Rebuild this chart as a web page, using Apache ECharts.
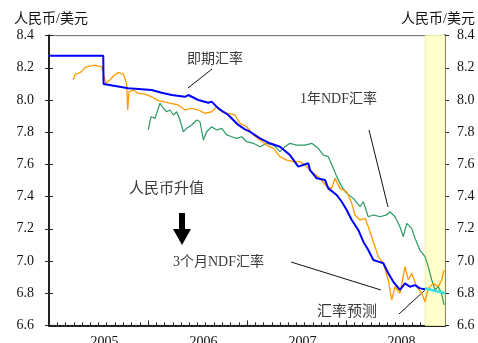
<!DOCTYPE html>
<html>
<head>
<meta charset="utf-8">
<script src="https://cdn.jsdelivr.net/npm/echarts@6/dist/echarts.min.js"></script>
<style>
  html, body { margin: 0; padding: 0; background: #fff; }
  #main { width: 478px; height: 343px; }
</style>
</head>
<body>
<div id="main"></div>
<script>
// 时间用小数年表示
var yearLabels = ['2005', '2006', '2007', '2008'];

// 即期汇率
var spotT = [2005.000, 2005.548, 2005.551, 2005.566, 2005.801, 2006.037, 2006.138, 2006.239, 2006.374, 2006.407,
  2006.508, 2006.609, 2006.643, 2006.710, 2006.811, 2006.912, 2006.980, 2007.030, 2007.131, 2007.232,
  2007.333, 2007.434, 2007.518, 2007.619, 2007.636, 2007.704, 2007.788, 2007.821, 2007.906, 2007.957,
  2008.007, 2008.058, 2008.124, 2008.175, 2008.225, 2008.276, 2008.326, 2008.377, 2008.427, 2008.478,
  2008.545, 2008.596, 2008.646, 2008.697, 2008.747, 2008.798];
var spotV = [8.275, 8.275, 8.100, 8.100, 8.073, 8.062, 8.045, 8.031, 8.020, 8.031,
  8.000, 7.983, 7.990, 7.948, 7.907, 7.845, 7.818, 7.803, 7.762, 7.731,
  7.710, 7.658, 7.586, 7.607, 7.565, 7.514, 7.503, 7.451, 7.410, 7.368,
  7.317, 7.255, 7.193, 7.120, 7.068, 7.006, 6.996, 6.986, 6.924, 6.871,
  6.820, 6.861, 6.840, 6.850, 6.830, 6.824];

// 3个月NDF汇率
var ndf3mT = [2005.245, 2005.263, 2005.296, 2005.330, 2005.364, 2005.414, 2005.465, 2005.498, 2005.532, 2005.548,
  2005.573, 2005.616, 2005.649, 2005.700, 2005.751, 2005.785, 2005.795, 2005.808, 2005.852, 2005.902,
  2005.970, 2006.037, 2006.104, 2006.155, 2006.222, 2006.306, 2006.374, 2006.441, 2006.508, 2006.576,
  2006.643, 2006.694, 2006.744, 2006.811, 2006.879, 2006.929, 2006.997, 2007.064, 2007.131, 2007.199,
  2007.266, 2007.333, 2007.401, 2007.468, 2007.535, 2007.586, 2007.654, 2007.737, 2007.805, 2007.856,
  2007.889, 2007.939, 2008.007, 2008.058, 2008.091, 2008.141, 2008.192, 2008.225, 2008.276, 2008.326,
  2008.377, 2008.427, 2008.462, 2008.495, 2008.545, 2008.596, 2008.629, 2008.664, 2008.714, 2008.765,
  2008.798, 2008.831, 2008.882, 2008.932, 2008.966, 2008.990];
var ndf3mV = [8.124, 8.161, 8.166, 8.176, 8.203, 8.211, 8.217, 8.210, 8.207, 8.166,
  8.104, 8.124, 8.149, 8.170, 8.161, 8.100, 7.938, 8.050, 8.062, 8.041,
  8.037, 8.020, 7.996, 7.990, 7.980, 7.969, 7.938, 7.948, 7.938, 7.917,
  7.927, 7.958, 7.927, 7.917, 7.907, 7.855, 7.834, 7.783, 7.752, 7.720,
  7.700, 7.648, 7.627, 7.617, 7.617, 7.596, 7.555, 7.514, 7.462, 7.451,
  7.514, 7.451, 7.430, 7.358, 7.286, 7.255, 7.265, 7.213, 7.120, 7.027,
  6.986, 6.882, 6.758, 6.840, 6.799, 6.965, 6.882, 6.924, 6.840, 6.799,
  6.747, 6.830, 6.861, 6.840, 6.882, 6.944];

// 1年NDF汇率
var ndf1yT = [2006.003, 2006.030, 2006.071, 2006.121, 2006.155, 2006.189, 2006.222, 2006.256, 2006.290, 2006.323,
  2006.357, 2006.391, 2006.441, 2006.492, 2006.525, 2006.559, 2006.593, 2006.643, 2006.694, 2006.744,
  2006.795, 2006.846, 2006.896, 2006.946, 2006.997, 2007.064, 2007.131, 2007.199, 2007.266, 2007.333,
  2007.384, 2007.434, 2007.502, 2007.586, 2007.654, 2007.720, 2007.771, 2007.821, 2007.872, 2007.906,
  2007.957, 2008.007, 2008.074, 2008.141, 2008.175, 2008.225, 2008.276, 2008.343, 2008.411, 2008.444,
  2008.495, 2008.545, 2008.579, 2008.613, 2008.664, 2008.697, 2008.747, 2008.798, 2008.831, 2008.866,
  2008.899, 2008.932, 2008.966, 2008.990];
var ndf1yV = [7.814, 7.896, 7.886, 7.980, 7.948, 7.927, 7.938, 7.907, 7.927, 7.876,
  7.803, 7.824, 7.845, 7.876, 7.865, 7.752, 7.803, 7.834, 7.814, 7.824,
  7.783, 7.772, 7.762, 7.772, 7.741, 7.731, 7.710, 7.731, 7.720, 7.679,
  7.710, 7.731, 7.720, 7.720, 7.731, 7.700, 7.658, 7.648, 7.576, 7.524,
  7.462, 7.420, 7.389, 7.337, 7.368, 7.275, 7.286, 7.275, 7.286, 7.306,
  7.275, 7.213, 7.151, 7.234, 7.203, 7.141, 7.068, 7.027, 6.965, 6.882,
  6.820, 6.840, 6.799, 6.727];

// 汇率预测
var fcT = [2008.798, 2009.000];
var fcV = [6.830, 6.800];
var fcBand = [2008.80, 2009.00];

function zip(t, v) {
    var out = [];
    for (var i = 0; i < t.length; i++) {
        out.push([t[i], v[i]]);
    }
    return out;
}

var FONT = '"Liberation Serif", "Noto Sans CJK SC", serif';
var TXT = '#3a3a3a';

function yAxisOf(pos, inside, showLabel) {
    return {
        type: 'value',
        position: pos,
        min: 6.6,
        max: 8.4,
        interval: 0.2,
        splitLine: { show: false },
        axisLine: { show: true, lineStyle: { color: '#222', width: 2 } },
        axisTick: { show: true, inside: inside, length: 4, lineStyle: { color: '#222', width: 1 } },
        axisLabel: {
            show: showLabel,
            margin: pos === 'left' ? 15 : 12,
            color: '#111',
            fontSize: 14,
            fontFamily: FONT,
            formatter: function (v) { return v.toFixed(1); }
        }
    };
}

var chart = echarts.init(document.getElementById('main'));
chart.setOption({
    animation: false,
    backgroundColor: '#fff',
    grid: {
        left: 49, right: 33, top: 35.6, bottom: 17.6,
        outerBoundsMode: 'none',
        containLabel: false,
        show: true, borderColor: '#666', borderWidth: 1
    },
    xAxis: [
        {
            type: 'value',
            min: 2005,
            max: 2009,
            interval: 1,
            splitLine: { show: false },
            axisLine: { show: true, lineStyle: { color: '#222', width: 2 } },
            axisTick: { show: true, inside: true, length: 5, lineStyle: { color: '#222' } },
            minorTick: { show: true, splitNumber: 12, length: 3, lineStyle: { color: '#222' } },
            axisLabel: { show: false }
        },
        {
            type: 'category',
            data: yearLabels,
            boundaryGap: true,
            position: 'bottom',
            axisLine: { show: false },
            axisTick: { show: false },
            axisLabel: {
                margin: 10,
                color: '#111',
                fontSize: 14,
                fontFamily: FONT,
                padding: [0, 0, 0, 12]
            }
        }
    ],
    yAxis: [
        yAxisOf('left', false, true),
        yAxisOf('right', false, true),
        yAxisOf('left', true, false),
        yAxisOf('right', true, false)
    ],
    series: [
        {
            name: '汇率预测',
            type: 'line',
            data: zip(fcT, fcV),
            symbol: 'none',
            z: 1,
            lineStyle: { color: '#3fe0e0', width: 2.5 },
            markArea: {
                silent: true,
                itemStyle: { color: '#ffffcc', borderColor: '#eeeeaa', borderWidth: 1 },
                data: [[{ xAxis: fcBand[0] }, { xAxis: fcBand[1] }]]
            }
        },
        {
            name: '1年NDF汇率',
            type: 'line',
            data: zip(ndf1yT, ndf1yV),
            symbol: 'none',
            z: 2,
            lineStyle: { color: '#2e9a66', width: 1.2 }
        },
        {
            name: '3个月NDF汇率',
            type: 'line',
            data: zip(ndf3mT, ndf3mV),
            symbol: 'none',
            z: 3,
            lineStyle: { color: '#ff9a00', width: 1.3 }
        },
        {
            name: '即期汇率',
            type: 'line',
            data: zip(spotT, spotV),
            symbol: 'none',
            z: 4,
            lineStyle: { color: '#0000ff', width: 2 }
        },
        {
            name: '汇率预测2',
            type: 'line',
            data: zip(fcT, fcV),
            symbol: 'none',
            z: 5,
            lineStyle: { color: '#3fe0e0', width: 2.5 }
        }
    ],
    graphic: [
        { type: 'text', left: 14, top: 12, style: { text: '人民币/美元', font: '14px ' + FONT, fill: '#111' } },
        { type: 'text', right: 3, top: 12, style: { text: '人民币/美元', font: '14px ' + FONT, fill: '#111' } },
        { type: 'text', x: 187, y: 59, style: { text: '即期汇率', font: '14px ' + FONT, fill: TXT, verticalAlign: 'middle' } },
        { type: 'line', shape: { x1: 212, y1: 69, x2: 188, y2: 88 }, style: { stroke: '#111', lineWidth: 1 } },
        { type: 'text', x: 300, y: 99, style: { text: '1年NDF汇率', font: '14px ' + FONT, fill: TXT, verticalAlign: 'middle' } },
        { type: 'line', shape: { x1: 369, y1: 130, x2: 388, y2: 207 }, style: { stroke: '#111', lineWidth: 1 } },
        { type: 'text', x: 129, y: 189, style: { text: '人民币升值', font: '15px ' + FONT, fill: TXT, verticalAlign: 'middle' } },
        { type: 'polygon', shape: { points: [[179, 213], [185, 213], [185, 229], [191, 229], [182, 245], [173, 229], [179, 229]] }, style: { fill: '#000' } },
        { type: 'text', x: 173, y: 262, style: { text: '3个月NDF汇率', font: '14px ' + FONT, fill: TXT, verticalAlign: 'middle' } },
        { type: 'line', shape: { x1: 291, y1: 262, x2: 381, y2: 290 }, style: { stroke: '#111', lineWidth: 1 } },
        { type: 'text', x: 317, y: 312, style: { text: '汇率预测', font: '15px ' + FONT, fill: TXT, verticalAlign: 'middle' } },
        { type: 'line', shape: { x1: 399, y1: 314, x2: 425, y2: 290 }, style: { stroke: '#111', lineWidth: 1 } }
    ]
});
</script>
</body>
</html>
